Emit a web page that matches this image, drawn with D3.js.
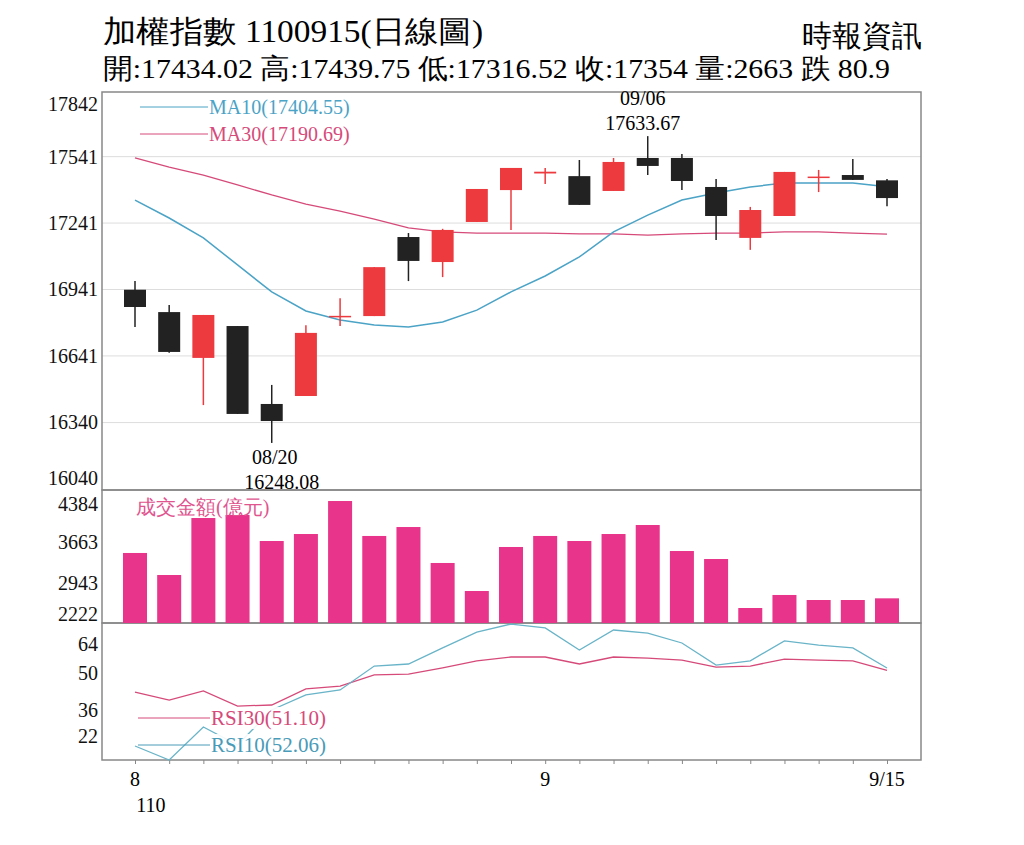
<!DOCTYPE html><html><head><meta charset="utf-8"><script src="https://cdn.jsdelivr.net/npm/d3@7"></script>
<style>body{margin:0;background:#fff}text{font-family:"Liberation Serif","DejaVu Serif",serif}</style></head><body><svg id="c" width="1024" height="845"></svg><script>
const openV=[16940,16839,16632,16776,16424,16460,16818,16821,17178,17065,17246,17390,17465,17453,17386,17535,17535,17404,17174,17273,17449,17458,17434.02];
const closeV=[16862,16659,16826,16379,16347,16745,16822,17042,17070,17210,17395,17490,17473,17323,17517,17499,17431,17273,17300,17472,17451,17436,17354];
const highV=[16979,16871,16826,16776,16510,16780,16902,17042,17196,17215,17395,17490,17490,17526,17535,17633.67,17553,17440,17314,17472,17481,17530,17439.75];
const lowV=[16772,16655,16419,16379,16248.08,16460,16776,16821,16979,16997,17246,17210,17418,17323,17386,17458,17390,17165,17120,17273,17381,17436,17316.52];
const ma10=[17345,17264,17174,17052,16930,16844,16803,16781,16772,16794,16848,16930,17002,17088,17201,17277,17345,17377,17404,17422,17422,17422,17404.55];
const ma30=[17535,17494,17458,17413,17368,17327,17295,17259,17219,17201,17196,17196,17196,17192,17192,17187,17192,17196,17196,17201,17201,17196,17190.69];
const vol=[3474,3080,4099,4153,3688,3813,4403,3778,3938,3295,2794,3581,3778,3688,3813,3974,3509,3366,2490,2723,2633,2633,2663];
const rsi30=[42.8,39.7,43.2,37.4,37.8,44.0,45.1,49.4,49.7,52.1,54.8,56.3,56.3,53.6,56.3,55.9,55.1,52.4,52.8,55.5,55.1,54.8,51.1];
const rsi10=[22,16.6,29.3,22.4,35.9,41.7,43.6,52.8,53.6,59.8,65.9,69.0,67.5,59.0,66.7,65.5,61.7,53.2,54.8,62.5,60.9,59.8,52.06];
const priceTicks=[16040,16340,16641,16941,17241,17541,17842];
const volTicks=[2222,2943,3663,4384];
const rsiTicks=[22,36,50,64];
const xLabels=[[0,"8"],[12,"9"],[22,"9/15"]];
const svg=d3.select("#c");
const L=102,R=921;
const x=d3.scalePoint().domain(d3.range(23)).range([135,887]);
const yP=d3.scaleLinear().domain([16040,17842]).range([489,90]);
const yV=d3.scaleLinear().domain([2222,4600]).range([623,490]);
const yR=d3.scaleLinear().domain([16.6,69.4]).range([760,623]);
const g=svg.append("g");
priceTicks.slice(1,-1).forEach(t=>g.append("line").attr("x1",L).attr("x2",R).attr("y1",yP(t)).attr("y2",yP(t)).attr("stroke","#ddd"));
[[92,490],[490,623],[623,760]].forEach(([a,b])=>g.append("rect").attr("x",L).attr("y",a).attr("width",R-L).attr("height",b-a).attr("fill","none").attr("stroke","#888").attr("stroke-width",1.5));
function yaxis(sc,ticks,shift){const a=svg.append("g").attr("transform",`translate(${L},0)`).call(d3.axisLeft(sc).tickValues(ticks).tickSize(0).tickFormat(d=>d));a.select(".domain").remove();a.selectAll("text").attr("font-size",20).attr("fill","#111").attr("dx",-1).attr("transform",d=>`translate(0,${shift[d]||0})`);}
yaxis(yP,priceTicks,{16040:-11,17842:14});yaxis(yV,volTicks,{2222:-9,4384:2});yaxis(yR,rsiTicks,{64:7,22:-10});
const xa=svg.append("g").attr("transform","translate(0,760)").call(d3.axisBottom(x).tickSize(4).tickFormat(""));
xa.select(".domain").remove();xa.selectAll("line").attr("stroke","#888");
xLabels.forEach(([i,t])=>svg.append("text").attr("x",x(i)).attr("y",786).attr("text-anchor","middle").attr("font-size",20).text(t));
svg.append("text").attr("x",x(0)+16).attr("y",812).attr("text-anchor","middle").attr("font-size",20).text("110");
const line=sc=>d3.line().x((d,i)=>x(i)).y(d=>sc(d));
svg.append("path").datum(ma30).attr("d",line(yP)).attr("fill","none").attr("stroke","#d64a7a").attr("stroke-width",1.3);
svg.append("path").datum(ma10).attr("d",line(yP)).attr("fill","none").attr("stroke","#4ba3c6").attr("stroke-width",1.5);
const bw=22;
d3.range(23).forEach(i=>{const up=closeV[i]>=openV[i];const col=up?"#ec3a3f":"#222";const cx=x(i);
 svg.append("line").attr("x1",cx).attr("x2",cx).attr("y1",yP(highV[i])).attr("y2",yP(lowV[i])).attr("stroke",col).attr("stroke-width",1.5);
 const t=yP(Math.max(openV[i],closeV[i])),b=yP(Math.min(openV[i],closeV[i]));
 svg.append("rect").attr("x",cx-bw/2).attr("y",t).attr("width",bw).attr("height",Math.max(b-t,1.5)).attr("fill",col);});
svg.append("text").attr("x",x(15)-5).attr("y",105).attr("text-anchor","middle").attr("font-size",20).text("09/06");
svg.append("text").attr("x",x(15)-5).attr("y",130).attr("text-anchor","middle").attr("font-size",20).text("17633.67");
svg.append("text").attr("x",x(4)+3).attr("y",464).attr("text-anchor","middle").attr("font-size",20).text("08/20");
svg.append("text").attr("x",x(4)+10).attr("y",489).attr("text-anchor","middle").attr("font-size",20).text("16248.08");
[[107,"#4ba3c6","MA10(17404.55)"],[134,"#d64a7a","MA30(17190.69)"]].forEach(([y,c,t])=>{svg.append("line").attr("x1",140).attr("x2",208).attr("y1",y).attr("y2",y).attr("stroke",c);
 svg.append("text").attr("x",209).attr("y",y+7).attr("font-size",20).attr("fill",c).text(t);});
svg.selectAll(".v").data(vol).enter().append("rect").attr("x",(d,i)=>x(i)-12).attr("width",24).attr("y",d=>yV(d)).attr("height",d=>623-yV(d)).attr("fill","#e8348a");
svg.append("text").attr("x",136).attr("y",514).attr("font-size",20).attr("fill","#e0558f").text("成交金額(億元)");
svg.append("path").datum(rsi30).attr("d",line(yR)).attr("fill","none").attr("stroke","#d64a7a").attr("stroke-width",1.3);
svg.append("path").datum(rsi10).attr("d",line(yR)).attr("fill","none").attr("stroke","#69b4c8").attr("stroke-width",1.3);
[[718,"#d64a7a","RSI30(51.10)"],[745,"#4a9bb8","RSI10(52.06)"]].forEach(([y,c,t])=>{svg.append("rect").attr("x",210).attr("y",y-11).attr("width",120).attr("height",22).attr("fill","#fff").attr("opacity",0.9);
 svg.append("line").attr("x1",138).attr("x2",210).attr("y1",y).attr("y2",y).attr("stroke",c);
 svg.append("text").attr("x",211).attr("y",y+7).attr("font-size",21).attr("fill",c).text(t);});
svg.append("text").attr("x",103).attr("y",42).attr("font-size",31).attr("textLength",380).attr("lengthAdjust","spacingAndGlyphs").text("加權指數 1100915(日線圖)");
svg.append("text").attr("x",103).attr("y",78).attr("font-size",28).attr("textLength",787).attr("lengthAdjust","spacingAndGlyphs").text("開:17434.02 高:17439.75 低:17316.52 收:17354 量:2663 跌 80.9");
svg.append("text").attr("x",922).attr("y",46).attr("text-anchor","end").attr("font-size",30).text("時報資訊");
</script></body></html>
